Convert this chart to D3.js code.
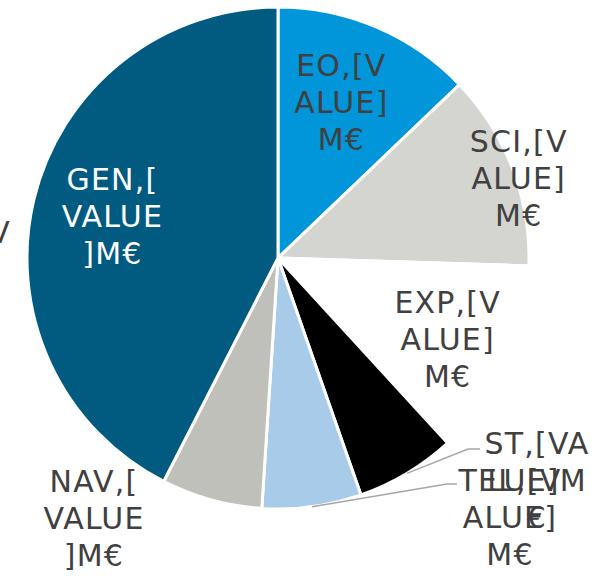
<!DOCTYPE html>
<html>
<head>
<meta charset="utf-8">
<script src="https://cdn.jsdelivr.net/npm/d3@7"></script>
<style>
  html, body { margin: 0; padding: 0; background: #fff; }
  svg { display: block; }
  text { font-family: "DejaVu Sans", Verdana, sans-serif; letter-spacing: 1.2px; }
</style>
</head>
<body>
<div id="pie-chart"></div>
<script>
// Data (shares of the pie)
const categories = ["EO", "SCI", "EXP", "ST", "TEL", "NAV", "GEN"];
const values = [46.3, 45.5, 45.7, 23.2, 23.0, 23.4, 152.9];
const colors = ["#0096d9", "#d4d4d0", "#ffffff", "#000000", "#a9cbea", "#c0c0bb", "#015a80"];
const labelLines = [
    ["EO,[V", "ALUE]", "M€"],
    ["SCI,[V", "ALUE]", "M€"],
    ["EXP,[V", "ALUE]", "M€"],
    ["ST,[VA", "LUE]M", "€"],
    ["TEL,[V", "ALUE]", "M€"],
    ["NAV,[", "VALUE", "]M€"],
    ["GEN,[", "VALUE", "]M€"]
];
const labelColors = ["#404040", "#404040", "#404040", "#404040", "#404040", "#404040", "#ffffff"];

const width = 594;
const height = 576;
const cx = 278, cy = 258, radius = 251;
const lineGap = 37;

// label placement: radius factor (and angle nudge, degrees) for inside labels,
// fixed spot for outside ones
const labelPlace = [
    { r: 0.67, da: -1 },
    { r: 1.01, da: 2.7 },
    { r: 0.75, da: 1 },
    { x: 537, y: 480, leader: [[468, 449], [480, 449]] },
    { x: 510, y: 517, leader: [[447, 484], [457, 484]] },
    { x: 94, y: 518 },
    { r: 0.68, da: 0.5 }
];

const svg = d3.select("#pie-chart")
    .append("svg")
    .attr("width", width)
    .attr("height", height);

const g = svg.append("g").attr("transform", `translate(${cx},${cy})`);

const pie = d3.pie().sort(null).value(d => d.value);
const arcs = pie(categories.map((c, i) => ({ name: c, value: values[i], i: i })));

const arc = d3.arc().innerRadius(0).outerRadius(radius);

g.selectAll("path.slice")
    .data(arcs)
    .enter()
    .append("path")
    .attr("class", "slice")
    .attr("d", arc)
    .attr("fill", d => colors[d.data.i])
    .attr("stroke", "#fff")
    .attr("stroke-width", 3)
    .attr("stroke-linejoin", "round");

// leader lines for the small slices
arcs.forEach(d => {
    const p = labelPlace[d.data.i];
    if (!p.leader) return;
    const mid = (d.startAngle + d.endAngle) / 2;
    const start = [Math.sin(mid) * radius, -Math.cos(mid) * radius];
    const pts = [start].concat(p.leader.map(q => [q[0] - cx, q[1] - cy]));
    g.append("path")
        .attr("d", d3.line()(pts))
        .attr("fill", "none")
        .attr("stroke", "#a6a6a6")
        .attr("stroke-width", 1.5);
});

// labels
arcs.forEach(d => {
    const p = labelPlace[d.data.i];
    let x, y;
    if (p.r !== undefined) {
        const mid = (d.startAngle + d.endAngle) / 2 + (p.da || 0) * Math.PI / 180;
        x = Math.sin(mid) * radius * p.r;
        y = -Math.cos(mid) * radius * p.r;
    } else {
        x = p.x - cx;
        y = p.y - cy;
    }
    const lines = labelLines[d.data.i];
    const t = g.append("text")
        .attr("text-anchor", "middle")
        .attr("font-size", 30)
        .attr("fill", labelColors[d.data.i]);
    lines.forEach((ln, k) => {
        t.append("tspan")
            .attr("x", x)
            .attr("y", y + (k - 1) * lineGap)
            .attr("dy", "0.36em")
            .text(ln);
    });
});

// clipped title fragment at the left edge
svg.append("text")
    .attr("x", 11)
    .attr("y", 232)
    .attr("dy", "0.36em")
    .attr("text-anchor", "end")
    .attr("font-size", 30)
    .attr("fill", "#404040")
    .text("V");
</script>
</body>
</html>
